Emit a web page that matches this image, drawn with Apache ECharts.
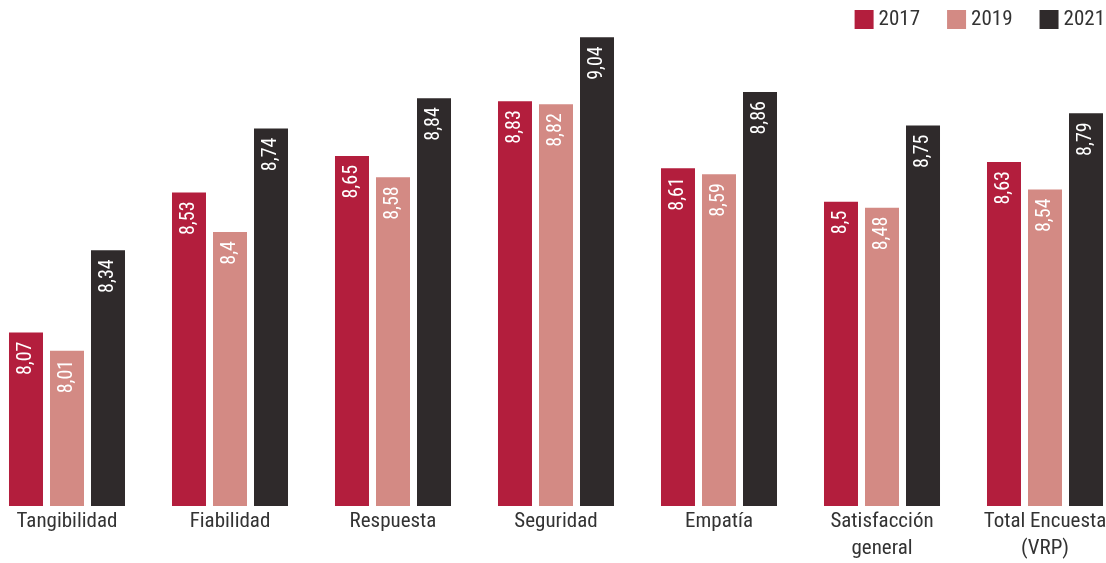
<!DOCTYPE html>
<html>
<head>
<meta charset="utf-8">
<script src="https://cdn.jsdelivr.net/npm/echarts@6/dist/echarts.min.js"></script>
<style>html,body{margin:0;padding:0;background:#fff}#c{width:1106px;height:563px}</style>
</head>
<body>
<div id="c"></div>
<script>
const categories = ['Tangibilidad', 'Fiabilidad', 'Respuesta', 'Seguridad', 'Empatía', 'Satisfacción\ngeneral', 'Total Encuesta\n(VRP)'];
const years = ['2017', '2019', '2021'];
const v2017 = [8.07, 8.53, 8.65, 8.83, 8.61, 8.5, 8.63];
const v2019 = [8.01, 8.4, 8.58, 8.82, 8.59, 8.48, 8.54];
const v2021 = [8.34, 8.74, 8.84, 9.04, 8.86, 8.75, 8.79];
const colors = ['#B31E3D', '#D38A84', '#2F2A2B'];

const FONT = '"Roboto Condensed", "Liberation Sans Narrow", "DejaVu Sans Condensed", Roboto, sans-serif';
const chart = echarts.init(document.getElementById('c'));
const mk = (name, data, color) => ({
  name, type: 'bar', data, barWidth: 34, barGap: '20.6%',
  itemStyle: { color },
  label: {
    show: true, position: 'insideTop', rotate: 90, align: 'right', verticalAlign: 'middle',
    distance: 9, color: '#fff', fontSize: 20, fontFamily: FONT,
    formatter: p => String(p.value).replace('.', ',')
  }
});
chart.setOption({
  animation: false,
  color: colors,
  legend: {
    right: 1, top: 9, padding: 0, itemWidth: 19, itemHeight: 19, itemGap: 27,
    icon: 'rect', data: years,
    textStyle: { fontSize: 21, color: '#333', fontFamily: FONT }
  },
  grid: { left: 67, right: 61, top: 19, bottom: 57, outerBoundsMode: 'none', containLabel: false },
  xAxis: {
    type: 'category', data: categories, boundaryGap: false,
    axisLine: { show: false }, axisTick: { show: false },
    axisLabel: { interval: 0, margin: 2, fontSize: 21, lineHeight: 27, color: '#333', fontFamily: FONT, verticalAlign: 'top' }
  },
  yAxis: {
    type: 'value', min: 7.5, max: 9.1, show: false, splitLine: { show: false }
  },
  series: [mk(years[0], v2017, colors[0]), mk(years[1], v2019, colors[1]), mk(years[2], v2021, colors[2])]
});
</script>
</body>
</html>
